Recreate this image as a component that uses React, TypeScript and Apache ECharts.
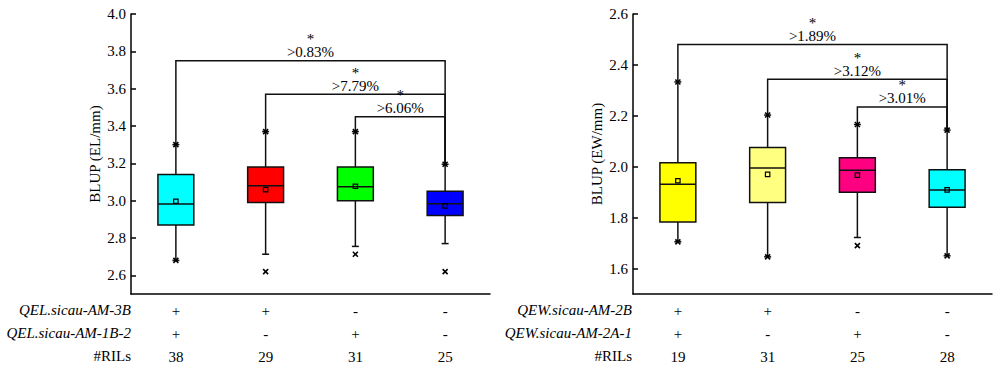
import React, { useEffect, useRef } from 'react';
import * as echarts from 'echarts';

const FONT = 'Liberation Serif';

const categories = ['G1', 'G2', 'G3', 'G4'];

// EL panel
const elGeneA = ['+', '+', '-', '-'];
const elGeneB = ['+', '-', '+', '-'];
const elRils = [38, 29, 31, 25];
const elRowNames = ['QEL.sicau-AM-3B', 'QEL.sicau-AM-1B-2', '#RILs'];
// [lower whisker, Q1, median, Q3, upper whisker]
const elBoxes = [
  [2.68, 2.87, 2.982, 3.14, 3.30],
  [2.713, 2.99, 3.08, 3.18, 3.37],
  [2.755, 3.0, 3.075, 3.18, 3.37],
  [2.77, 2.92, 2.984, 3.05, 3.195],
];
const elMeans = [2.997, 3.059, 3.077, 2.972];
const elMax = [3.30, 3.37, 3.37, 3.195];
const elMin = [2.68, 2.62, 2.713, 2.62];
const elBracketFrom = [0, 1, 2];
const elBracketHeight = [3.75, 3.57, 3.45];
const elBracketLabels = ['>0.83%', '>7.79%', '>6.06%'];
const elYTicks = [2.6, 2.8, 3.0, 3.2, 3.4, 3.6, 3.8, 4.0];
const elColors = ['#00FFFF', '#FF0000', '#00FF00', '#0000FF'];

// EW panel
const ewGeneA = ['+', '+', '-', '-'];
const ewGeneB = ['+', '-', '+', '-'];
const ewRils = [19, 31, 25, 28];
const ewRowNames = ['QEW.sicau-AM-2B', 'QEW.sicau-AM-2A-1', '#RILs'];
const ewBoxes = [
  [1.705, 1.783, 1.931, 2.016, 2.333],
  [1.646, 1.859, 1.995, 2.076, 2.203],
  [1.722, 1.90, 1.986, 2.035, 2.166],
  [1.65, 1.841, 1.909, 1.988, 2.144],
];
const ewMeans = [1.945, 1.97, 1.967, 1.909];
const ewMax = [2.333, 2.203, 2.166, 2.144];
const ewMin = [1.705, 1.646, 1.69, 1.65];
const ewBracketFrom = [0, 1, 2];
const ewBracketHeight = [2.48, 2.344, 2.235];
const ewBracketLabels = ['>1.89%', '>3.12%', '>3.01%'];
const ewYTicks = [1.6, 1.8, 2.0, 2.2, 2.4, 2.6];
const ewColors = ['#FFFF00', '#FFFF80', '#FF0080', '#00FFFF'];

const STROKE = '#111';

function boxRenderer(colors: string[]) {
  return (params: any, api: any) => {
    const i = api.value(0);
    const low = api.coord([i, api.value(1)]);
    const q1 = api.coord([i, api.value(2)]);
    const med = api.coord([i, api.value(3)]);
    const q3 = api.coord([i, api.value(4)]);
    const high = api.coord([i, api.value(5)]);
    const mean = api.coord([i, api.value(6)]);
    const mx = api.coord([i, api.value(7)]);
    const mn = api.coord([i, api.value(8)]);
    const band = api.size([1, 0])[0];
    const hw = band * 0.2;
    const cap = 3.5;
    const x = low[0];
    const ls = { stroke: STROKE, lineWidth: 1.5 };
    const cross = (p: number[]) => [
      { type: 'line', shape: { x1: p[0] - 2.5, y1: p[1] - 2.5, x2: p[0] + 2.5, y2: p[1] + 2.5 }, style: { stroke: '#000', lineWidth: 1.6 } },
      { type: 'line', shape: { x1: p[0] - 2.5, y1: p[1] + 2.5, x2: p[0] + 2.5, y2: p[1] - 2.5 }, style: { stroke: '#000', lineWidth: 1.6 } },
    ];
    return {
      type: 'group',
      children: [
        { type: 'line', shape: { x1: x, y1: low[1], x2: x, y2: q1[1] }, style: ls },
        { type: 'line', shape: { x1: x, y1: q3[1], x2: x, y2: high[1] }, style: ls },
        { type: 'line', shape: { x1: x - cap, y1: low[1], x2: x + cap, y2: low[1] }, style: ls },
        { type: 'line', shape: { x1: x - cap, y1: high[1], x2: x + cap, y2: high[1] }, style: ls },
        {
          type: 'rect',
          shape: { x: x - hw, y: q3[1], width: 2 * hw, height: q1[1] - q3[1] },
          style: { fill: colors[params.dataIndex], stroke: STROKE, lineWidth: 1.5 },
        },
        { type: 'line', shape: { x1: x - hw, y1: med[1], x2: x + hw, y2: med[1] }, style: ls },
        {
          type: 'rect',
          shape: { x: mean[0] - 2.2, y: mean[1] - 2.2, width: 4.4, height: 4.4 },
          style: { fill: 'none', stroke: '#000', lineWidth: 1.2 },
        },
        ...cross(mx),
        ...cross(mn),
      ],
    };
  };
}

function bracketRenderer(highs: number[], labels: string[]) {
  return (params: any, api: any) => {
    const from = api.value(0);
    const h = api.value(1);
    const last = highs.length - 1;
    const a = api.coord([from, highs[from]]);
    const b = api.coord([from, h]);
    const c = api.coord([last, h]);
    const d = api.coord([last, highs[last]]);
    const midX = (b[0] + c[0]) / 2;
    return {
      type: 'group',
      children: [
        {
          type: 'polyline',
          shape: { points: [a, b, c, d] },
          style: { stroke: STROKE, lineWidth: 1.5, fill: 'none' },
        },
        {
          type: 'text',
          x: midX,
          y: b[1] - 2,
          style: {
            text: '*\n' + labels[params.dataIndex],
            fontSize: 15,
            lineHeight: 13,
            fontFamily: FONT,
            fill: '#000',
            align: 'center',
            verticalAlign: 'bottom',
          },
        },
      ],
    };
  };
}

function makeAxes(idx: number, geneA: string[], geneB: string[], rils: number[], min: number, max: number, ticks: number[], name: string) {
  const xAxis = {
    type: 'category',
    gridIndex: idx,
    data: categories,
    boundaryGap: true,
    axisLine: { lineStyle: { color: '#000', width: 1.5 } },
    axisTick: { inside: true, length: 6, alignWithLabel: true, lineStyle: { color: '#000', width: 1.5 } },
    axisLabel: {
      interval: 0,
      margin: 5,
      lineHeight: 23,
      fontSize: 15,
      fontFamily: FONT,
      color: '#000',
      formatter: (_v: string, i: number) => `${geneA[i]}\n${geneB[i]}\n${rils[i]}`,
    },
    splitLine: { show: false },
  };
  const yAxis = {
    type: 'value',
    gridIndex: idx,
    min,
    max,
    axisLine: { show: true, lineStyle: { color: '#000', width: 1.5 } },
    axisTick: { show: true, inside: true, length: 5, customValues: ticks, lineStyle: { color: '#000', width: 1.5 } },
    axisLabel: { customValues: ticks, formatter: (v: number) => v.toFixed(1), margin: 5, fontSize: 15, fontFamily: FONT, color: '#000' },
    splitLine: { show: false },
    name,
    nameLocation: 'middle',
    nameGap: 29,
    nameTextStyle: { fontSize: 15, fontFamily: FONT, color: '#000' },
  };
  return { xAxis, yAxis };
}

export default function App() {
  const ref = useRef<HTMLDivElement>(null);
  useEffect(() => {
    if (!ref.current) return;
    const chart = echarts.init(ref.current, undefined, { renderer: 'svg' });
    const a0 = makeAxes(0, elGeneA, elGeneB, elRils, 2.5, 4.0, elYTicks, 'BLUP (EL/mm)');
    const a1 = makeAxes(1, ewGeneA, ewGeneB, ewRils, 1.5, 2.6, ewYTicks, 'BLUP (EW/mm)');
    const elData = elBoxes.map((b, i) => [i, ...b, elMeans[i], elMax[i], elMin[i]]);
    const ewData = ewBoxes.map((b, i) => [i, ...b, ewMeans[i], ewMax[i], ewMin[i]]);
    const elHighs = elBoxes.map((b) => b[4]);
    const ewHighs = ewBoxes.map((b) => b[4]);
    const rowText = (names: string[], right: number) =>
      names.map((n, k) => ({
        type: 'text',
        x: right,
        y: 310 + k * 23,
        style: {
          text: n,
          fontSize: 15,
          fontFamily: FONT,
          fontStyle: k < 2 ? 'italic' : 'normal',
          fill: '#000',
          align: 'right',
          verticalAlign: 'middle',
        },
      }));
    chart.setOption({
      animation: false,
      textStyle: { fontFamily: FONT },
      grid: [
        { left: 131, top: 14, width: 359, height: 280 },
        { left: 633, top: 14, width: 359, height: 280 },
      ],
      xAxis: [a0.xAxis, a1.xAxis],
      yAxis: [a0.yAxis, a1.yAxis],
      series: [
        {
          type: 'custom',
          xAxisIndex: 0,
          yAxisIndex: 0,
          renderItem: bracketRenderer(elHighs, elBracketLabels),
          data: elBracketFrom.map((f, i) => [f, elBracketHeight[i]]),
          z: 1,
        },
        {
          type: 'custom',
          xAxisIndex: 0,
          yAxisIndex: 0,
          renderItem: boxRenderer(elColors),
          data: elData,
          z: 2,
        },
        {
          type: 'custom',
          xAxisIndex: 1,
          yAxisIndex: 1,
          renderItem: bracketRenderer(ewHighs, ewBracketLabels),
          data: ewBracketFrom.map((f, i) => [f, ewBracketHeight[i]]),
          z: 1,
        },
        {
          type: 'custom',
          xAxisIndex: 1,
          yAxisIndex: 1,
          renderItem: boxRenderer(ewColors),
          data: ewData,
          z: 2,
        },
      ],
      graphic: [...rowText(elRowNames, 131), ...rowText(ewRowNames, 632)],
    });
    return () => chart.dispose();
  }, []);
  return <div ref={ref} style={{ position: 'absolute', left: 0, top: 0, width: 1000, height: 370 }} />;
}
